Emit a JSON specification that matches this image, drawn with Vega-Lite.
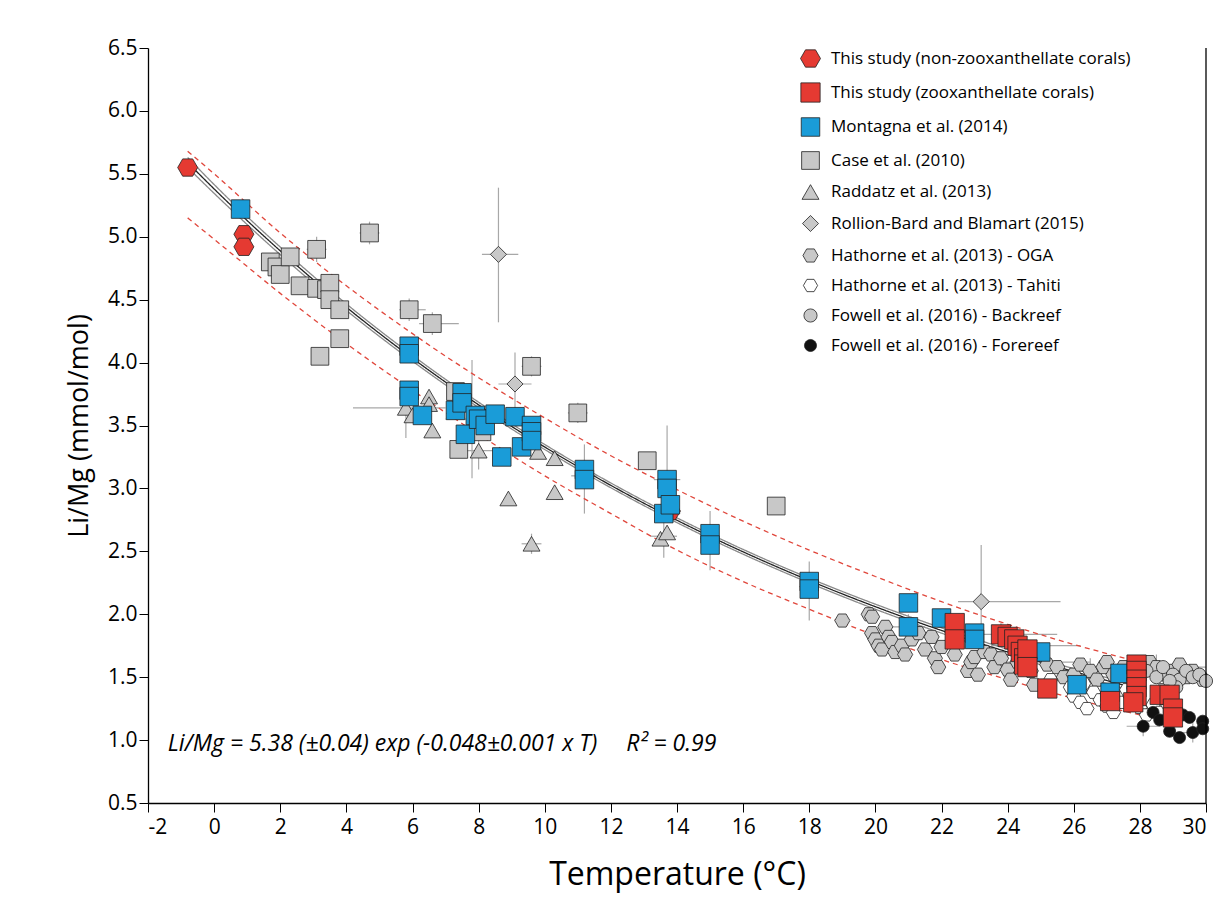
{
  "$schema": "https://vega.github.io/schema/vega-lite/v6.json",
  "width": 1058,
  "height": 755,
  "autosize": "none",
  "padding": {"left": 148, "top": 48, "right": 25, "bottom": 121},
  "config": {
    "view": {"stroke": null},
    "font": "Open Sans",
    "axis": {"labelFont": "Open Sans", "titleFont": "Open Sans", "labelColor": "#000", "titleColor": "#000", "domainColor": "#000", "tickColor": "#000", "grid": false, "titleFontWeight": "normal"}
  },
  "datasets": {
    "curves": [
      {"T": -0.8, "v": 5.590, "k": "fit"}, {"T": 0, "v": 5.380, "k": "fit"}, {"T": 2, "v": 4.888, "k": "fit"}, {"T": 4, "v": 4.440, "k": "fit"}, {"T": 6, "v": 4.034, "k": "fit"}, {"T": 8, "v": 3.664, "k": "fit"}, {"T": 10, "v": 3.329, "k": "fit"}, {"T": 12, "v": 3.024, "k": "fit"}, {"T": 14, "v": 2.747, "k": "fit"}, {"T": 16, "v": 2.496, "k": "fit"}, {"T": 18, "v": 2.268, "k": "fit"}, {"T": 20, "v": 2.060, "k": "fit"}, {"T": 22, "v": 1.871, "k": "fit"}, {"T": 24, "v": 1.700, "k": "fit"}, {"T": 26, "v": 1.545, "k": "fit"}, {"T": 28, "v": 1.403, "k": "fit"},
      {"T": -0.8, "v": 5.630, "k": "ciU"}, {"T": 0, "v": 5.415, "k": "ciU"}, {"T": 2, "v": 4.918, "k": "ciU"}, {"T": 4, "v": 4.466, "k": "ciU"}, {"T": 6, "v": 4.057, "k": "ciU"}, {"T": 8, "v": 3.685, "k": "ciU"}, {"T": 10, "v": 3.349, "k": "ciU"}, {"T": 12, "v": 3.043, "k": "ciU"}, {"T": 14, "v": 2.766, "k": "ciU"}, {"T": 16, "v": 2.515, "k": "ciU"}, {"T": 18, "v": 2.287, "k": "ciU"}, {"T": 20, "v": 2.080, "k": "ciU"}, {"T": 22, "v": 1.892, "k": "ciU"}, {"T": 24, "v": 1.722, "k": "ciU"}, {"T": 26, "v": 1.568, "k": "ciU"}, {"T": 28, "v": 1.428, "k": "ciU"},
      {"T": -0.8, "v": 5.550, "k": "ciL"}, {"T": 0, "v": 5.345, "k": "ciL"}, {"T": 2, "v": 4.858, "k": "ciL"}, {"T": 4, "v": 4.414, "k": "ciL"}, {"T": 6, "v": 4.011, "k": "ciL"}, {"T": 8, "v": 3.643, "k": "ciL"}, {"T": 10, "v": 3.309, "k": "ciL"}, {"T": 12, "v": 3.005, "k": "ciL"}, {"T": 14, "v": 2.728, "k": "ciL"}, {"T": 16, "v": 2.477, "k": "ciL"}, {"T": 18, "v": 2.249, "k": "ciL"}, {"T": 20, "v": 2.040, "k": "ciL"}, {"T": 22, "v": 1.850, "k": "ciL"}, {"T": 24, "v": 1.678, "k": "ciL"}, {"T": 26, "v": 1.522, "k": "ciL"}, {"T": 28, "v": 1.378, "k": "ciL"},
      {"T": -0.8, "v": 5.68, "k": "pU"}, {"T": 0, "v": 5.50, "k": "pU"}, {"T": 2, "v": 5.03, "k": "pU"}, {"T": 4, "v": 4.61, "k": "pU"}, {"T": 6, "v": 4.23, "k": "pU"}, {"T": 8, "v": 3.88, "k": "pU"}, {"T": 10, "v": 3.56, "k": "pU"}, {"T": 12, "v": 3.26, "k": "pU"}, {"T": 14, "v": 2.99, "k": "pU"}, {"T": 16, "v": 2.74, "k": "pU"}, {"T": 18, "v": 2.51, "k": "pU"}, {"T": 20, "v": 2.30, "k": "pU"}, {"T": 22, "v": 2.10, "k": "pU"}, {"T": 24, "v": 1.92, "k": "pU"}, {"T": 26, "v": 1.76, "k": "pU"}, {"T": 28, "v": 1.62, "k": "pU"},
      {"T": -0.8, "v": 5.15, "k": "pL"}, {"T": 0, "v": 4.98, "k": "pL"}, {"T": 2, "v": 4.55, "k": "pL"}, {"T": 4, "v": 4.15, "k": "pL"}, {"T": 6, "v": 3.78, "k": "pL"}, {"T": 8, "v": 3.43, "k": "pL"}, {"T": 10, "v": 3.10, "k": "pL"}, {"T": 12, "v": 2.80, "k": "pL"}, {"T": 14, "v": 2.51, "k": "pL"}, {"T": 16, "v": 2.26, "k": "pL"}, {"T": 18, "v": 2.04, "k": "pL"}, {"T": 20, "v": 1.83, "k": "pL"}, {"T": 22, "v": 1.64, "k": "pL"}, {"T": 24, "v": 1.48, "k": "pL"}, {"T": 26, "v": 1.33, "k": "pL"}, {"T": 28, "v": 1.20, "k": "pL"}
    ],
    "err": [
      {"x": 8.6, "y": 4.86, "xlo": 8.1, "xhi": 9.2, "ylo": 4.32, "yhi": 5.39},
      {"x": 23.2, "y": 2.10, "xlo": 22.5, "xhi": 25.6, "ylo": 1.65, "yhi": 2.55},
      {"x": 4.7, "y": 5.03, "xlo": 4.4, "xhi": 5.0, "ylo": 4.94, "yhi": 5.12},
      {"x": 5.9, "y": 4.42, "xlo": 5.6, "xhi": 6.4, "ylo": 4.33, "yhi": 4.51},
      {"x": 6.6, "y": 4.31, "xlo": 6.2, "xhi": 7.4, "ylo": 4.22, "yhi": 4.40},
      {"x": 3.1, "y": 4.90, "xlo": 2.8, "xhi": 3.4, "ylo": 4.80, "yhi": 5.00},
      {"x": 5.8, "y": 3.64, "xlo": 4.2, "xhi": 7.0, "ylo": 3.40, "yhi": 3.85},
      {"x": 7.8, "y": 3.55, "xlo": 7.0, "xhi": 8.6, "ylo": 3.08, "yhi": 4.02},
      {"x": 9.6, "y": 3.97, "xlo": 9.3, "xhi": 9.9, "ylo": 3.89, "yhi": 4.05},
      {"x": 9.1, "y": 3.83, "xlo": 8.6, "xhi": 9.6, "ylo": 3.55, "yhi": 4.08},
      {"x": 11.2, "y": 3.10, "xlo": 10.8, "xhi": 11.6, "ylo": 2.80, "yhi": 3.35},
      {"x": 11.0, "y": 3.60, "xlo": 10.7, "xhi": 11.3, "ylo": 3.52, "yhi": 3.68},
      {"x": 13.7, "y": 3.07, "xlo": 13.3, "xhi": 14.1, "ylo": 2.85, "yhi": 3.50},
      {"x": 13.6, "y": 2.62, "xlo": 13.2, "xhi": 14.0, "ylo": 2.45, "yhi": 2.80},
      {"x": 15.0, "y": 2.60, "xlo": 14.7, "xhi": 15.3, "ylo": 2.35, "yhi": 2.82},
      {"x": 18.0, "y": 2.22, "xlo": 17.7, "xhi": 18.3, "ylo": 1.95, "yhi": 2.42},
      {"x": 9.6, "y": 2.56, "xlo": 9.3, "xhi": 9.9, "ylo": 2.48, "yhi": 2.64},
      {"x": 8.0, "y": 3.30, "xlo": 7.5, "xhi": 8.5, "ylo": 3.15, "yhi": 3.45},
      {"x": 21.0, "y": 1.90, "xlo": 20.5, "xhi": 21.5, "ylo": 1.80, "yhi": 2.00},
      {"x": 23.8, "y": 1.84, "xlo": 23.0, "xhi": 25.5, "ylo": 1.75, "yhi": 1.93},
      {"x": 24.3, "y": 1.75, "xlo": 23.5, "xhi": 26.2, "ylo": 1.65, "yhi": 1.85},
      {"x": 24.5, "y": 1.62, "xlo": 23.6, "xhi": 26.5, "ylo": 1.52, "yhi": 1.72},
      {"x": 26.5, "y": 1.55, "xlo": 25.5, "xhi": 27.8, "ylo": 1.45, "yhi": 1.65},
      {"x": 27.9, "y": 1.55, "xlo": 27.2, "xhi": 29.5, "ylo": 1.45, "yhi": 1.65},
      {"x": 28.5, "y": 1.58, "xlo": 27.8, "xhi": 30.0, "ylo": 1.48, "yhi": 1.68},
      {"x": 29.0, "y": 1.18, "xlo": 28.5, "xhi": 29.6, "ylo": 1.05, "yhi": 1.30},
      {"x": 29.6, "y": 1.06, "xlo": 29.1, "xhi": 30.0, "ylo": 0.98, "yhi": 1.15},
      {"x": 28.1, "y": 1.11, "xlo": 27.6, "xhi": 28.6, "ylo": 1.03, "yhi": 1.20}
    ],
    "txt": [{"x": -1.4, "y": 0.97, "t": "Li/Mg = 5.38 (±0.04) exp (-0.048±0.001 x T)\u2003 R² = 0.99"}],
    "pts": [
      {"T": -0.8, "L": 5.55, "s": "This study (non-zooxanthellate corals)"},
      {"T": 0.9, "L": 5.02, "s": "This study (non-zooxanthellate corals)"},
      {"T": 0.9, "L": 4.92, "s": "This study (non-zooxanthellate corals)"},
      {"T": 13.8, "L": 2.82, "s": "This study (non-zooxanthellate corals)"},
      {"T": 19.0, "L": 1.95, "s": "Hathorne et al. (2013) - OGA"}, {"T": 19.8, "L": 2.00, "s": "Hathorne et al. (2013) - OGA"}, {"T": 19.9, "L": 1.98, "s": "Hathorne et al. (2013) - OGA"}, {"T": 19.9, "L": 1.85, "s": "Hathorne et al. (2013) - OGA"}, {"T": 20.0, "L": 1.80, "s": "Hathorne et al. (2013) - OGA"}, {"T": 20.1, "L": 1.75, "s": "Hathorne et al. (2013) - OGA"}, {"T": 20.2, "L": 1.72, "s": "Hathorne et al. (2013) - OGA"}, {"T": 20.3, "L": 1.90, "s": "Hathorne et al. (2013) - OGA"}, {"T": 20.4, "L": 1.82, "s": "Hathorne et al. (2013) - OGA"}, {"T": 20.5, "L": 1.78, "s": "Hathorne et al. (2013) - OGA"}, {"T": 20.6, "L": 1.70, "s": "Hathorne et al. (2013) - OGA"}, {"T": 20.8, "L": 1.75, "s": "Hathorne et al. (2013) - OGA"}, {"T": 20.9, "L": 1.68, "s": "Hathorne et al. (2013) - OGA"}, {"T": 21.1, "L": 1.80, "s": "Hathorne et al. (2013) - OGA"}, {"T": 21.3, "L": 1.85, "s": "Hathorne et al. (2013) - OGA"}, {"T": 21.5, "L": 1.72, "s": "Hathorne et al. (2013) - OGA"}, {"T": 21.7, "L": 1.82, "s": "Hathorne et al. (2013) - OGA"}, {"T": 21.8, "L": 1.65, "s": "Hathorne et al. (2013) - OGA"}, {"T": 21.9, "L": 1.58, "s": "Hathorne et al. (2013) - OGA"}, {"T": 22.0, "L": 1.74, "s": "Hathorne et al. (2013) - OGA"}, {"T": 22.4, "L": 1.68, "s": "Hathorne et al. (2013) - OGA"}, {"T": 22.8, "L": 1.55, "s": "Hathorne et al. (2013) - OGA"}, {"T": 22.9, "L": 1.62, "s": "Hathorne et al. (2013) - OGA"}, {"T": 23.0, "L": 1.66, "s": "Hathorne et al. (2013) - OGA"}, {"T": 23.1, "L": 1.52, "s": "Hathorne et al. (2013) - OGA"}, {"T": 23.3, "L": 1.70, "s": "Hathorne et al. (2013) - OGA"}, {"T": 23.5, "L": 1.68, "s": "Hathorne et al. (2013) - OGA"}, {"T": 23.6, "L": 1.58, "s": "Hathorne et al. (2013) - OGA"}, {"T": 23.8, "L": 1.65, "s": "Hathorne et al. (2013) - OGA"}, {"T": 24.0, "L": 1.56, "s": "Hathorne et al. (2013) - OGA"}, {"T": 24.1, "L": 1.48, "s": "Hathorne et al. (2013) - OGA"}, {"T": 24.3, "L": 1.62, "s": "Hathorne et al. (2013) - OGA"}, {"T": 24.7, "L": 1.55, "s": "Hathorne et al. (2013) - OGA"}, {"T": 24.8, "L": 1.44, "s": "Hathorne et al. (2013) - OGA"}, {"T": 25.2, "L": 1.60, "s": "Hathorne et al. (2013) - OGA"}, {"T": 25.5, "L": 1.58, "s": "Hathorne et al. (2013) - OGA"}, {"T": 25.7, "L": 1.50, "s": "Hathorne et al. (2013) - OGA"}, {"T": 26.0, "L": 1.52, "s": "Hathorne et al. (2013) - OGA"}, {"T": 26.2, "L": 1.60, "s": "Hathorne et al. (2013) - OGA"}, {"T": 26.5, "L": 1.55, "s": "Hathorne et al. (2013) - OGA"}, {"T": 26.7, "L": 1.48, "s": "Hathorne et al. (2013) - OGA"}, {"T": 26.9, "L": 1.58, "s": "Hathorne et al. (2013) - OGA"}, {"T": 27.0, "L": 1.62, "s": "Hathorne et al. (2013) - OGA"}, {"T": 27.2, "L": 1.52, "s": "Hathorne et al. (2013) - OGA"}, {"T": 27.5, "L": 1.58, "s": "Hathorne et al. (2013) - OGA"}, {"T": 27.8, "L": 1.50, "s": "Hathorne et al. (2013) - OGA"}, {"T": 28.1, "L": 1.55, "s": "Hathorne et al. (2013) - OGA"}, {"T": 28.3, "L": 1.62, "s": "Hathorne et al. (2013) - OGA"}, {"T": 28.5, "L": 1.58, "s": "Hathorne et al. (2013) - OGA"}, {"T": 28.8, "L": 1.52, "s": "Hathorne et al. (2013) - OGA"}, {"T": 29.0, "L": 1.55, "s": "Hathorne et al. (2013) - OGA"}, {"T": 29.2, "L": 1.60, "s": "Hathorne et al. (2013) - OGA"}, {"T": 29.4, "L": 1.50, "s": "Hathorne et al. (2013) - OGA"}, {"T": 29.6, "L": 1.55, "s": "Hathorne et al. (2013) - OGA"}, {"T": 29.9, "L": 1.48, "s": "Hathorne et al. (2013) - OGA"},
      {"T": 25.9, "L": 1.42, "s": "Hathorne et al. (2013) - Tahiti"}, {"T": 26.0, "L": 1.35, "s": "Hathorne et al. (2013) - Tahiti"}, {"T": 26.2, "L": 1.30, "s": "Hathorne et al. (2013) - Tahiti"}, {"T": 26.4, "L": 1.25, "s": "Hathorne et al. (2013) - Tahiti"}, {"T": 26.6, "L": 1.38, "s": "Hathorne et al. (2013) - Tahiti"}, {"T": 26.8, "L": 1.32, "s": "Hathorne et al. (2013) - Tahiti"}, {"T": 27.0, "L": 1.27, "s": "Hathorne et al. (2013) - Tahiti"}, {"T": 27.2, "L": 1.22, "s": "Hathorne et al. (2013) - Tahiti"}, {"T": 27.5, "L": 1.30, "s": "Hathorne et al. (2013) - Tahiti"}, {"T": 27.7, "L": 1.35, "s": "Hathorne et al. (2013) - Tahiti"}, {"T": 28.0, "L": 1.26, "s": "Hathorne et al. (2013) - Tahiti"}, {"T": 28.2, "L": 1.20, "s": "Hathorne et al. (2013) - Tahiti"}, {"T": 28.4, "L": 1.28, "s": "Hathorne et al. (2013) - Tahiti"}, {"T": 28.6, "L": 1.22, "s": "Hathorne et al. (2013) - Tahiti"}, {"T": 28.8, "L": 1.30, "s": "Hathorne et al. (2013) - Tahiti"}, {"T": 29.0, "L": 1.18, "s": "Hathorne et al. (2013) - Tahiti"}, {"T": 27.6, "L": 1.40, "s": "Hathorne et al. (2013) - Tahiti"}, {"T": 26.3, "L": 1.45, "s": "Hathorne et al. (2013) - Tahiti"}, {"T": 28.7, "L": 1.40, "s": "Hathorne et al. (2013) - Tahiti"}, {"T": 25.3, "L": 1.48, "s": "Hathorne et al. (2013) - Tahiti"},
      {"T": 28.2, "L": 1.55, "s": "Fowell et al. (2016) - Backreef"}, {"T": 28.5, "L": 1.50, "s": "Fowell et al. (2016) - Backreef"}, {"T": 28.7, "L": 1.58, "s": "Fowell et al. (2016) - Backreef"}, {"T": 29.0, "L": 1.52, "s": "Fowell et al. (2016) - Backreef"}, {"T": 29.2, "L": 1.48, "s": "Fowell et al. (2016) - Backreef"}, {"T": 29.4, "L": 1.55, "s": "Fowell et al. (2016) - Backreef"}, {"T": 29.6, "L": 1.50, "s": "Fowell et al. (2016) - Backreef"}, {"T": 29.8, "L": 1.52, "s": "Fowell et al. (2016) - Backreef"}, {"T": 30.0, "L": 1.47, "s": "Fowell et al. (2016) - Backreef"}, {"T": 29.1, "L": 1.42, "s": "Fowell et al. (2016) - Backreef"}, {"T": 28.9, "L": 1.47, "s": "Fowell et al. (2016) - Backreef"},
      {"T": 28.1, "L": 1.11, "s": "Fowell et al. (2016) - Forereef"}, {"T": 28.4, "L": 1.22, "s": "Fowell et al. (2016) - Forereef"}, {"T": 28.9, "L": 1.07, "s": "Fowell et al. (2016) - Forereef"}, {"T": 29.0, "L": 1.15, "s": "Fowell et al. (2016) - Forereef"}, {"T": 29.2, "L": 1.02, "s": "Fowell et al. (2016) - Forereef"}, {"T": 29.3, "L": 1.20, "s": "Fowell et al. (2016) - Forereef"}, {"T": 29.5, "L": 1.18, "s": "Fowell et al. (2016) - Forereef"}, {"T": 29.6, "L": 1.06, "s": "Fowell et al. (2016) - Forereef"}, {"T": 29.9, "L": 1.15, "s": "Fowell et al. (2016) - Forereef"}, {"T": 29.9, "L": 1.09, "s": "Fowell et al. (2016) - Forereef"}, {"T": 28.6, "L": 1.16, "s": "Fowell et al. (2016) - Forereef"},
      {"T": 1.7, "L": 4.80, "s": "Case et al. (2010)"}, {"T": 1.9, "L": 4.76, "s": "Case et al. (2010)"}, {"T": 2.0, "L": 4.70, "s": "Case et al. (2010)"}, {"T": 2.3, "L": 4.84, "s": "Case et al. (2010)"}, {"T": 2.6, "L": 4.61, "s": "Case et al. (2010)"}, {"T": 3.1, "L": 4.90, "s": "Case et al. (2010)"}, {"T": 3.1, "L": 4.59, "s": "Case et al. (2010)"}, {"T": 3.2, "L": 4.05, "s": "Case et al. (2010)"}, {"T": 3.4, "L": 4.58, "s": "Case et al. (2010)"}, {"T": 3.5, "L": 4.63, "s": "Case et al. (2010)"}, {"T": 3.5, "L": 4.50, "s": "Case et al. (2010)"}, {"T": 3.8, "L": 4.42, "s": "Case et al. (2010)"}, {"T": 3.8, "L": 4.19, "s": "Case et al. (2010)"}, {"T": 4.7, "L": 5.03, "s": "Case et al. (2010)"}, {"T": 5.9, "L": 4.42, "s": "Case et al. (2010)"}, {"T": 6.6, "L": 4.31, "s": "Case et al. (2010)"}, {"T": 7.3, "L": 3.77, "s": "Case et al. (2010)"}, {"T": 7.4, "L": 3.31, "s": "Case et al. (2010)"}, {"T": 8.1, "L": 3.45, "s": "Case et al. (2010)"}, {"T": 9.6, "L": 3.97, "s": "Case et al. (2010)"}, {"T": 11.0, "L": 3.60, "s": "Case et al. (2010)"}, {"T": 13.1, "L": 3.22, "s": "Case et al. (2010)"}, {"T": 17.0, "L": 2.86, "s": "Case et al. (2010)"},
      {"T": 5.8, "L": 3.64, "s": "Raddatz et al. (2013)"}, {"T": 6.0, "L": 3.58, "s": "Raddatz et al. (2013)"}, {"T": 6.5, "L": 3.73, "s": "Raddatz et al. (2013)"}, {"T": 6.5, "L": 3.67, "s": "Raddatz et al. (2013)"}, {"T": 6.6, "L": 3.46, "s": "Raddatz et al. (2013)"}, {"T": 7.3, "L": 3.62, "s": "Raddatz et al. (2013)"}, {"T": 8.0, "L": 3.30, "s": "Raddatz et al. (2013)"}, {"T": 8.9, "L": 2.92, "s": "Raddatz et al. (2013)"}, {"T": 9.6, "L": 2.56, "s": "Raddatz et al. (2013)"}, {"T": 9.8, "L": 3.29, "s": "Raddatz et al. (2013)"}, {"T": 10.3, "L": 3.24, "s": "Raddatz et al. (2013)"}, {"T": 10.3, "L": 2.97, "s": "Raddatz et al. (2013)"}, {"T": 13.5, "L": 2.60, "s": "Raddatz et al. (2013)"}, {"T": 13.7, "L": 2.65, "s": "Raddatz et al. (2013)"},
      {"T": 8.6, "L": 4.86, "s": "Rollion-Bard and Blamart (2015)"}, {"T": 9.1, "L": 3.83, "s": "Rollion-Bard and Blamart (2015)"}, {"T": 23.2, "L": 2.10, "s": "Rollion-Bard and Blamart (2015)"},
      {"T": 0.8, "L": 5.22, "s": "Montagna et al. (2014)"}, {"T": 5.9, "L": 4.13, "s": "Montagna et al. (2014)"}, {"T": 5.9, "L": 4.07, "s": "Montagna et al. (2014)"}, {"T": 5.9, "L": 3.78, "s": "Montagna et al. (2014)"}, {"T": 5.9, "L": 3.73, "s": "Montagna et al. (2014)"}, {"T": 6.3, "L": 3.58, "s": "Montagna et al. (2014)"}, {"T": 7.3, "L": 3.62, "s": "Montagna et al. (2014)"}, {"T": 7.5, "L": 3.76, "s": "Montagna et al. (2014)"}, {"T": 7.5, "L": 3.68, "s": "Montagna et al. (2014)"}, {"T": 7.6, "L": 3.43, "s": "Montagna et al. (2014)"}, {"T": 7.9, "L": 3.58, "s": "Montagna et al. (2014)"}, {"T": 8.0, "L": 3.55, "s": "Montagna et al. (2014)"}, {"T": 8.2, "L": 3.50, "s": "Montagna et al. (2014)"}, {"T": 8.5, "L": 3.59, "s": "Montagna et al. (2014)"}, {"T": 8.7, "L": 3.25, "s": "Montagna et al. (2014)"}, {"T": 9.1, "L": 3.57, "s": "Montagna et al. (2014)"}, {"T": 9.3, "L": 3.33, "s": "Montagna et al. (2014)"}, {"T": 9.6, "L": 3.50, "s": "Montagna et al. (2014)"}, {"T": 9.6, "L": 3.45, "s": "Montagna et al. (2014)"}, {"T": 9.6, "L": 3.38, "s": "Montagna et al. (2014)"}, {"T": 11.2, "L": 3.15, "s": "Montagna et al. (2014)"}, {"T": 11.2, "L": 3.07, "s": "Montagna et al. (2014)"}, {"T": 13.6, "L": 2.80, "s": "Montagna et al. (2014)"}, {"T": 13.7, "L": 3.07, "s": "Montagna et al. (2014)"}, {"T": 13.7, "L": 3.00, "s": "Montagna et al. (2014)"}, {"T": 13.8, "L": 2.87, "s": "Montagna et al. (2014)"}, {"T": 15.0, "L": 2.64, "s": "Montagna et al. (2014)"}, {"T": 15.0, "L": 2.55, "s": "Montagna et al. (2014)"}, {"T": 18.0, "L": 2.26, "s": "Montagna et al. (2014)"}, {"T": 18.0, "L": 2.20, "s": "Montagna et al. (2014)"}, {"T": 21.0, "L": 2.09, "s": "Montagna et al. (2014)"}, {"T": 21.0, "L": 1.90, "s": "Montagna et al. (2014)"}, {"T": 22.0, "L": 1.97, "s": "Montagna et al. (2014)"}, {"T": 23.0, "L": 1.85, "s": "Montagna et al. (2014)"}, {"T": 23.0, "L": 1.80, "s": "Montagna et al. (2014)"}, {"T": 25.0, "L": 1.70, "s": "Montagna et al. (2014)"}, {"T": 26.1, "L": 1.44, "s": "Montagna et al. (2014)"}, {"T": 27.1, "L": 1.38, "s": "Montagna et al. (2014)"}, {"T": 27.4, "L": 1.53, "s": "Montagna et al. (2014)"},
      {"T": 22.4, "L": 1.93, "s": "This study (zooxanthellate corals)"}, {"T": 22.4, "L": 1.80, "s": "This study (zooxanthellate corals)"}, {"T": 23.8, "L": 1.84, "s": "This study (zooxanthellate corals)"}, {"T": 24.0, "L": 1.82, "s": "This study (zooxanthellate corals)"}, {"T": 24.2, "L": 1.80, "s": "This study (zooxanthellate corals)"}, {"T": 24.3, "L": 1.75, "s": "This study (zooxanthellate corals)"}, {"T": 24.4, "L": 1.70, "s": "This study (zooxanthellate corals)"}, {"T": 24.5, "L": 1.65, "s": "This study (zooxanthellate corals)"}, {"T": 24.5, "L": 1.60, "s": "This study (zooxanthellate corals)"}, {"T": 24.6, "L": 1.72, "s": "This study (zooxanthellate corals)"}, {"T": 24.6, "L": 1.58, "s": "This study (zooxanthellate corals)"}, {"T": 25.2, "L": 1.41, "s": "This study (zooxanthellate corals)"}, {"T": 27.1, "L": 1.31, "s": "This study (zooxanthellate corals)"}, {"T": 27.9, "L": 1.60, "s": "This study (zooxanthellate corals)"}, {"T": 27.9, "L": 1.55, "s": "This study (zooxanthellate corals)"}, {"T": 27.9, "L": 1.48, "s": "This study (zooxanthellate corals)"}, {"T": 27.9, "L": 1.42, "s": "This study (zooxanthellate corals)"}, {"T": 27.9, "L": 1.35, "s": "This study (zooxanthellate corals)"}, {"T": 27.8, "L": 1.30, "s": "This study (zooxanthellate corals)"}, {"T": 28.6, "L": 1.36, "s": "This study (zooxanthellate corals)"}, {"T": 28.9, "L": 1.36, "s": "This study (zooxanthellate corals)"}, {"T": 29.0, "L": 1.25, "s": "This study (zooxanthellate corals)"}, {"T": 29.0, "L": 1.18, "s": "This study (zooxanthellate corals)"}
    ]
  },
  "layer": [
    {
      "data": {"name": "err"},
      "mark": {"type": "rule", "color": "#a8a8a8", "strokeWidth": 1.2},
      "encoding": {"x": {"field": "xlo", "type": "quantitative"}, "x2": {"field": "xhi"}, "y": {"field": "y", "type": "quantitative"}}
    },
    {
      "data": {"name": "err"},
      "mark": {"type": "rule", "color": "#a8a8a8", "strokeWidth": 1.2},
      "encoding": {"x": {"field": "x", "type": "quantitative"}, "y": {"field": "ylo", "type": "quantitative"}, "y2": {"field": "yhi"}}
    },
    {
      "data": {"name": "curves"},
      "mark": {"type": "line", "interpolate": "monotone"},
      "encoding": {
        "x": {"field": "T", "type": "quantitative"},
        "y": {"field": "v", "type": "quantitative"},
        "detail": {"field": "k"},
        "stroke": {"field": "k", "type": "nominal", "legend": null, "scale": {"domain": ["fit", "ciU", "ciL", "pU", "pL"], "range": ["#222222", "#8a8a8a", "#8a8a8a", "#e0473c", "#e0473c"]}},
        "strokeDash": {"field": "k", "type": "nominal", "legend": null, "scale": {"domain": ["fit", "ciU", "ciL", "pU", "pL"], "range": [[1, 0], [1, 0], [1, 0], [5, 4], [5, 4]]}},
        "strokeWidth": {"value": 1.3}
      }
    },
    {
      "data": {"name": "pts"},
      "mark": {"type": "point", "filled": true, "stroke": "#222", "strokeWidth": 0.8, "opacity": 1},
      "encoding": {
        "x": {"field": "T", "type": "quantitative", "title": "Temperature (°C)",
          "scale": {"domain": [-2, 30], "nice": false, "zero": false},
          "axis": {"values": [-2,-1,0,1,2,3,4,5,6,7,8,9,10,11,12,13,14,15,16,17,18,19,20,21,22,23,24,25,26,27,28,29,30], "labelExpr": "datum.value % 2 == 0 ? replace(datum.label, '\u2212', '-') : ''", "labelFontSize": 21, "titleFontSize": 32, "titlePadding": 22, "tickSize": 9, "labelPadding": 4, "domainWidth": 1.3}},
        "y": {"field": "L", "type": "quantitative", "title": "Li/Mg (mmol/mol)",
          "scale": {"domain": [0.5, 6.5], "nice": false, "zero": false},
          "axis": {"values": [0.5,1,1.5,2,2.5,3,3.5,4,4.5,5,5.5,6,6.5], "format": ".1f", "labelFontSize": 21, "titleFontSize": 27, "titlePadding": 14, "tickSize": 9, "domainWidth": 1.3}},
        "fill": {"field": "s", "type": "nominal", "title": null,
          "scale": {"domain": ["This study (non-zooxanthellate corals)", "This study (zooxanthellate corals)", "Montagna et al. (2014)", "Case et al. (2010)", "Raddatz et al. (2013)", "Rollion-Bard and Blamart (2015)", "Hathorne et al. (2013) - OGA", "Hathorne et al. (2013) - Tahiti", "Fowell et al. (2016) - Backreef", "Fowell et al. (2016) - Forereef"],
            "range": ["#e53a32", "#e53a32", "#1a9cd8", "#c8c8c8", "#c8c8c8", "#c8c8c8", "#c8c8c8", "#ffffff", "#c8c8c8", "#111111"]},
          "legend": {"orient": "none", "legendX": 652, "legendY": 0, "labelFontSize": 17, "labelFont": "Open Sans", "labelColor": "#000", "rowPadding": 12, "symbolStrokeColor": "#222", "symbolStrokeWidth": 0.8, "labelOffset": 10, "labelLimit": 400}},
        "shape": {"field": "s", "type": "nominal", "title": null,
          "scale": {"domain": ["This study (non-zooxanthellate corals)", "This study (zooxanthellate corals)", "Montagna et al. (2014)", "Case et al. (2010)", "Raddatz et al. (2013)", "Rollion-Bard and Blamart (2015)", "Hathorne et al. (2013) - OGA", "Hathorne et al. (2013) - Tahiti", "Fowell et al. (2016) - Backreef", "Fowell et al. (2016) - Forereef"],
            "range": ["M-1,0L-0.5,-0.866L0.5,-0.866L1,0L0.5,0.866L-0.5,0.866Z", "square", "square", "square", "triangle-up", "diamond", "M-1,0L-0.5,-0.866L0.5,-0.866L1,0L0.5,0.866L-0.5,0.866Z", "M-1,0L-0.5,-0.866L0.5,-0.866L1,0L0.5,0.866L-0.5,0.866Z", "circle", "circle"]}},
        "size": {"field": "s", "type": "nominal", "title": null,
          "scale": {"domain": ["This study (non-zooxanthellate corals)", "This study (zooxanthellate corals)", "Montagna et al. (2014)", "Case et al. (2010)", "Raddatz et al. (2013)", "Rollion-Bard and Blamart (2015)", "Hathorne et al. (2013) - OGA", "Hathorne et al. (2013) - Tahiti", "Fowell et al. (2016) - Backreef", "Fowell et al. (2016) - Forereef"],
            "range": [400, 145, 145, 115, 150, 140, 110, 110, 50, 50]}}
      }
    },
    {
      "data": {"name": "txt"},
      "mark": {"type": "text", "align": "left", "baseline": "middle", "fontSize": 23, "fontStyle": "italic", "font": "Open Sans", "color": "#000"},
      "encoding": {"x": {"field": "x", "type": "quantitative"}, "y": {"field": "y", "type": "quantitative"}, "text": {"field": "t"}}
    },
    {
      "data": {"values": [{"T": 30}]},
      "mark": {"type": "rule", "color": "#000", "strokeWidth": 1.3},
      "encoding": {"x": {"field": "T", "type": "quantitative"}}
    }
  ]
}
